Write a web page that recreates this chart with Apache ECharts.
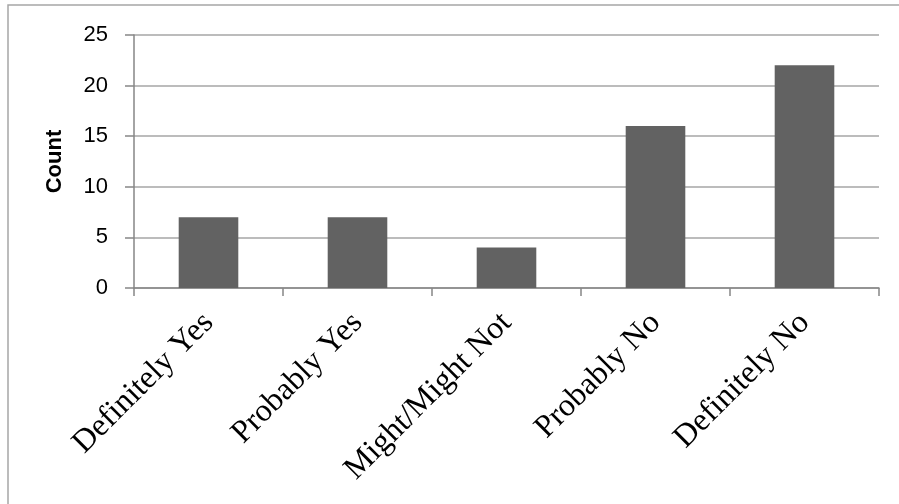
<!DOCTYPE html>
<html>
<head>
<meta charset="utf-8">
<script src="https://cdn.jsdelivr.net/npm/echarts@6/dist/echarts.min.js"></script>
<style>
  html, body { margin: 0; padding: 0; background: #ffffff; }
  #chart { width: 899px; height: 504px; }
</style>
</head>
<body>
<div id="chart"></div>
<script>
// Survey responses and their counts
const categories = ['Definitely Yes', 'Probably Yes', 'Might/Might Not', 'Probably No', 'Definitely No'];
const counts = [7, 7, 4, 16, 22];
const yTicks = { min: 0, max: 25, interval: 5 };

const chart = echarts.init(document.getElementById('chart'), null, { renderer: 'canvas' });

chart.setOption({
  animation: false,
  backgroundColor: '#ffffff',
  graphic: [{
    type: 'rect',
    shape: { x: 8, y: 5, width: 1000, height: 600 },
    style: { fill: 'none', stroke: '#a6a6a6', lineWidth: 1.5 },
    silent: true
  }],
  grid: { left: 134, top: 35, right: 20, bottom: 216, containLabel: false },
  xAxis: {
    type: 'category',
    data: categories,
    boundaryGap: true,
    axisLine: { lineStyle: { color: '#868686', width: 1.5 } },
    axisTick: { show: true, alignWithLabel: false, length: 8, lineStyle: { color: '#868686', width: 1.5 } },
    axisLabel: {
      rotate: 45,
      margin: 30,
      interval: 0,
      color: '#000000',
      fontFamily: '"Liberation Serif", "Times New Roman", serif',
      fontSize: 32
    }
  },
  yAxis: {
    type: 'value',
    min: yTicks.min,
    max: yTicks.max,
    interval: yTicks.interval,
    name: 'Count',
    nameLocation: 'middle',
    nameGap: 68,
    nameRotate: 90,
    nameTextStyle: {
      color: '#000000',
      fontFamily: '"Liberation Sans", Arial, sans-serif',
      fontWeight: 'bold',
      fontSize: 22
    },
    axisLine: { show: true, lineStyle: { color: '#868686', width: 1.5 } },
    axisTick: { show: true, length: 9, lineStyle: { color: '#868686', width: 1.5 } },
    axisLabel: {
      margin: 26,
      color: '#000000',
      fontFamily: '"Liberation Sans", Arial, sans-serif',
      fontSize: 22
    },
    splitLine: { show: true, lineStyle: { color: '#a6a6a6', width: 1.5 } }
  },
  series: [{
    type: 'bar',
    data: counts,
    barWidth: '40%',
    itemStyle: { color: '#626262' }
  }]
});
</script>
</body>
</html>
